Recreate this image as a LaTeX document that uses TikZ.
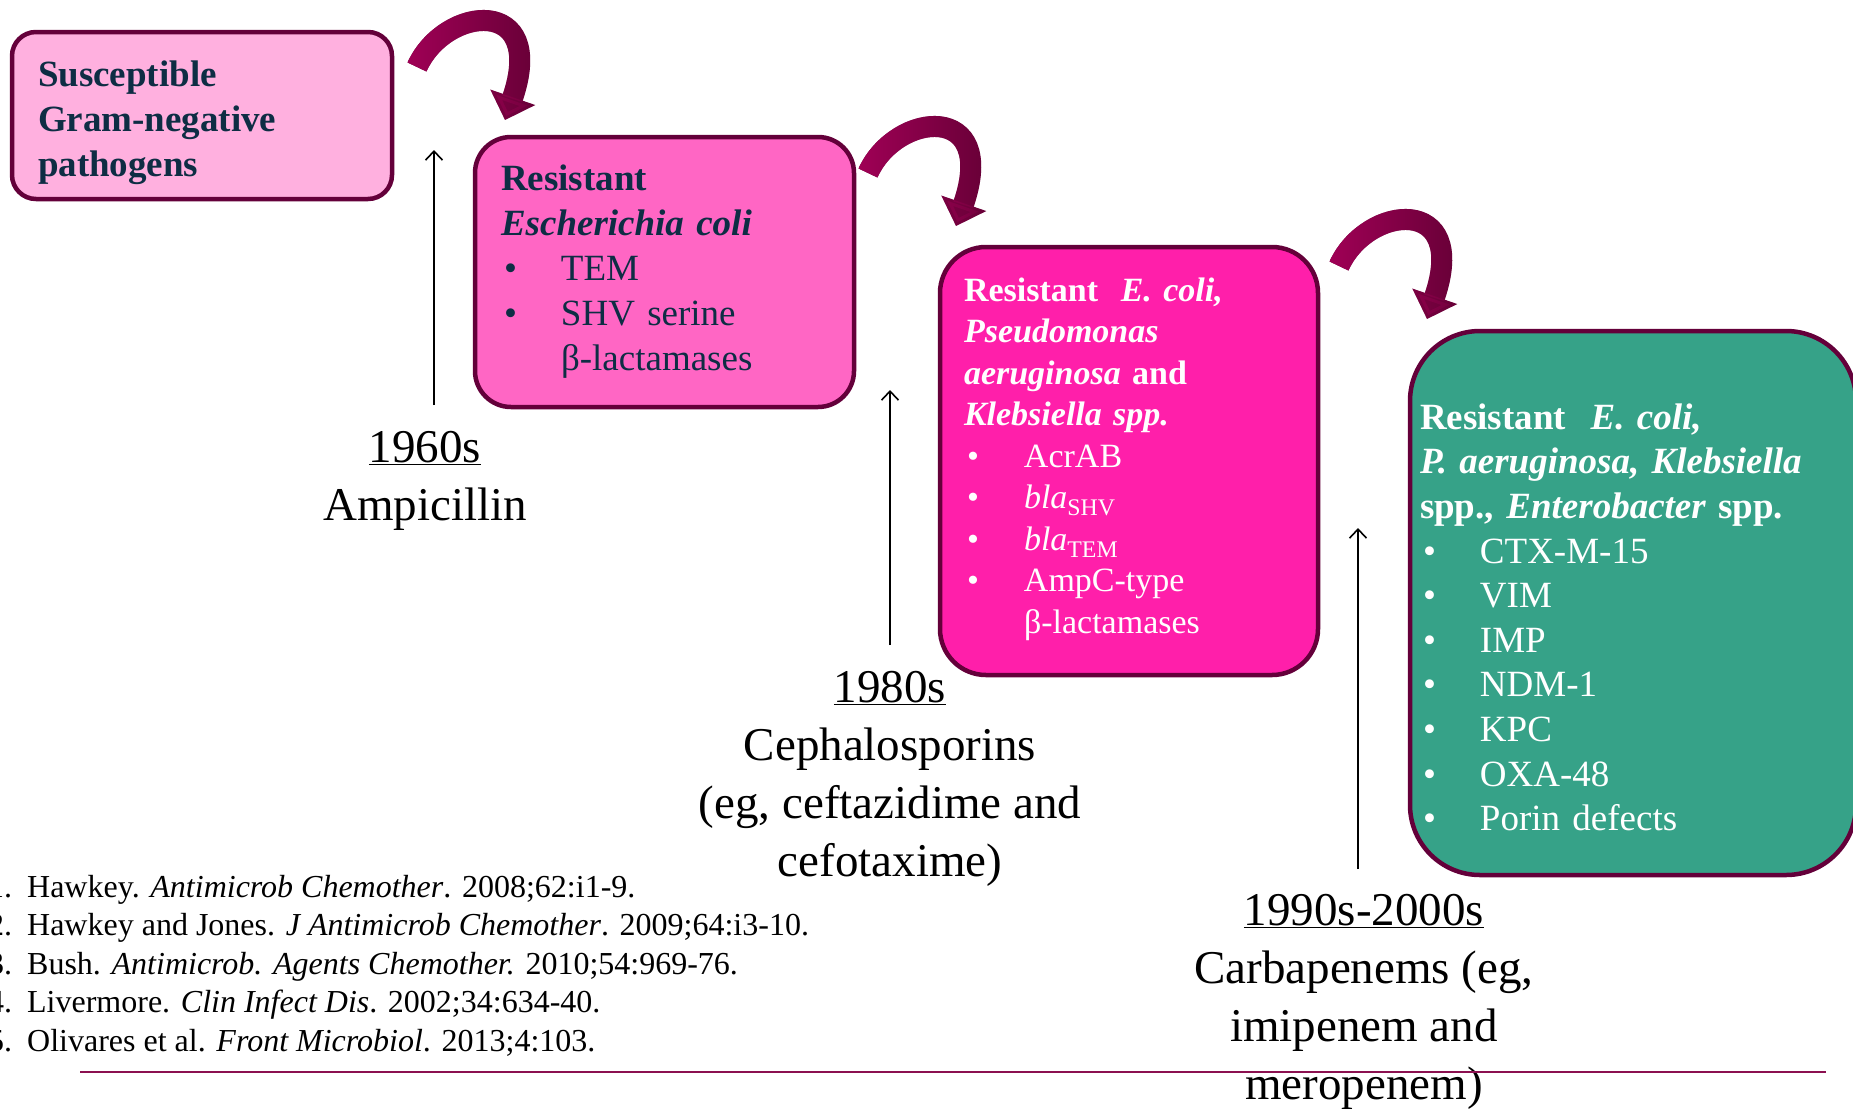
\documentclass[tikz,border=0pt]{standalone}
\usepackage{fontspec}
\setmainfont{Liberation Serif}
\usetikzlibrary{arrows.meta,positioning,calc,fadings}
\definecolor{boxborder}{HTML}{64003A}
\definecolor{palepink}{HTML}{FFB0DF}
\definecolor{midpink}{HTML}{FF66C4}
\definecolor{hotpink}{HTML}{FF1FAA}
\definecolor{tealgreen}{HTML}{36A288}
\definecolor{swoopdark}{HTML}{5E0032}
\definecolor{swooplight}{HTML}{A00056}
\definecolor{textnavy}{HTML}{0E2D44}
\definecolor{rulered}{HTML}{8B1050}
\newcommand{\bul}[1]{\makebox[60pt][l]{\hspace{3pt}\textbullet}#1}
\newcommand{\cont}[1]{\hspace*{60pt}#1}
\tikzset{
  box/.style={draw=boxborder, line width=4.5pt, align=left, inner ysep=0pt, outer sep=0pt, text=textnavy, font=\fontsize{37}{45}\selectfont},
  palebox/.style={box, fill=palepink, rounded corners=24pt},
  midbox/.style={box, fill=midpink, rounded corners=36pt},
  hotbox/.style={box, fill=hotpink, rounded corners=46pt, text=white, font=\fontsize{34}{41.5}\selectfont},
  tealbox/.style={box, fill=tealgreen, rounded corners=70pt, text=white, font=\fontsize{37}{44.6}\selectfont},
  yearlabel/.style={align=center, inner sep=0pt, font=\fontsize{47}{58}\selectfont},
  refline/.style={anchor=base west, inner sep=0pt, font=\fontsize{32}{38}\selectfont},
  swoop/.style={draw=swoopdark, line width=21pt, -{Triangle[length=24pt,width=46pt]},
    postaction={draw=swooplight, path fading=east}},
  uparrow/.style={-{Straight Barb[length=9pt,width=17pt]}, line width=1.6pt}
}
\begin{document}
\begin{tikzpicture}[x=1pt, y=-1pt]
  \useasboundingbox (0,0) rectangle (1853,1109);
  % boxes
  \node[palebox, text width=328pt, inner xsep=26pt, minimum height=167pt] (susceptible) at (202,115.5)
    {\rule{0pt}{41.4pt}\textbf{Susceptible}\\ \textbf{Gram-negative}\\ \textbf{pathogens}\rule[-9pt]{0pt}{9pt}};
  \node[midbox, text width=327pt, inner xsep=26pt, minimum height=270pt] (ecoli) at (664.5,272)
    {\rule{0pt}{26pt}\textbf{Resistant}\\ \textbf{\textit{Escherichia coli}}\\ \bul{TEM}\\ \bul{SHV serine}\\ \cont{β-lactamases}\rule[-9pt]{0pt}{9pt}};
  \node[hotbox, text width=330pt, inner xsep=24pt, minimum height=428pt] (multires) at (1129,461)
    {\rule{0pt}{24.4pt}\textbf{Resistant \ \textit{E. coli,}}\\ \textbf{\textit{Pseudomonas}}\\ \textbf{\textit{aeruginosa} and}\\ \textbf{\textit{Klebsiella spp.}}\\
     \bul{AcrAB}\\ \bul{\textit{bla}\textsubscript{SHV}}\\ \bul{\textit{bla}\textsubscript{TEM}}\\ \bul{AmpC-type}\\ \cont{β-lactamases}\rule[-12pt]{0pt}{12pt}};
  \node[tealbox, text width=426pt, inner xsep=10pt, minimum height=544pt] (carbares) at (1633,603)
    {\rule{0pt}{62.8pt}\textbf{Resistant \ \textit{E. coli,}}\\ \textbf{\textit{P. aeruginosa, Klebsiella}}\\ \textbf{spp., \textit{Enterobacter} spp.}\\
     \bul{CTX-M-15}\\ \bul{VIM}\\ \bul{IMP}\\ \bul{NDM-1}\\ \bul{KPC}\\ \bul{OXA-48}\\ \bul{Porin defects}\rule[-9pt]{0pt}{9pt}};
  % curved arrows between boxes
  \draw[swoop] ($(susceptible.north east)+(25,35)$) .. controls +(28,-62) and +(43,-125) .. ($(ecoli.north west)+(30,-17)$);
  \draw[swoop] ($(ecoli.north east)+(14,36)$) .. controls +(28,-62) and +(43,-125) .. ($(multires.north west)+(16,-21)$);
  \draw[swoop] ($(multires.north east)+(21,19)$) .. controls +(28,-62) and +(43,-125) .. ($(carbares.north west)+(17,-12)$);
  % time labels
  \node[yearlabel, anchor=north] (y1960) at (425,431) {\underline{1960s}\\Ampicillin};
  \node[yearlabel, anchor=north] (y1980) at (890,671) {\underline{1980s}\\Cephalosporins\\(eg, ceftazidime and\\cefotaxime)};
  \node[yearlabel, anchor=north] (y1990) at (1364,894) {\underline{1990s-2000s}\\Carbapenems (eg,\\imipenem and\\meropenem)};
  \coordinate (ampi) at (434,150);
  \coordinate (cepha) at (890,390);
  \coordinate (carba) at (1358,528);
  \draw[uparrow] ($(ampi |- y1960.north)+(0,-26)$) -- (ampi);
  \draw[uparrow] ($(cepha |- y1980.north)+(0,-26)$) -- (cepha);
  \draw[uparrow] ($(carba |- y1990.north)+(0,-25)$) -- (carba);
  % references
  \foreach \n/\reftext [count=\i from 0] in {
    1/{Hawkey. \textit{Antimicrob Chemother}. 2008;62:i1-9.},
    2/{Hawkey and Jones. \textit{J Antimicrob Chemother}. 2009;64:i3-10.},
    3/{Bush. \textit{Antimicrob. Agents Chemother.} 2010;54:969-76.},
    4/{Livermore. \textit{Clin Infect Dis}. 2002;34:634-40.},
    5/{Olivares et al. \textit{Front Microbiol}. 2013;4:103.}}
    \node[refline] (ref\n) at (27,{897+38.5*\i}) {\llap{\n.\hspace{15pt}}\reftext};
  \draw[rulered, line width=2pt] (80,1072) -- (1826,1072);
\end{tikzpicture}
\end{document}
